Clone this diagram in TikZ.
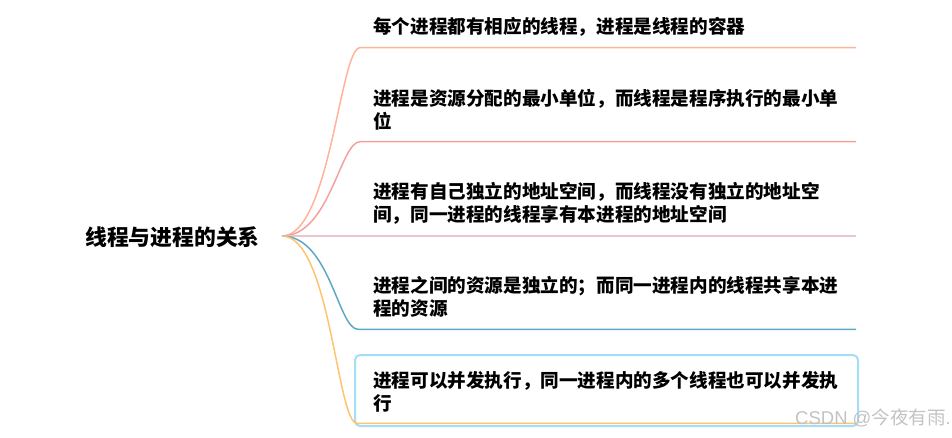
\documentclass[tikz,border=0pt]{standalone}
\usepackage{fontspec}
\newfontfamily\cjk{Noto Sans CJK SC}
\newfontfamily\marksans{Liberation Sans}
\usepackage{tikz}
\definecolor{brA}{HTML}{FFB399}
\definecolor{brB}{HTML}{F3A19F}
\definecolor{brC}{HTML}{EDC5CD}
\definecolor{brD}{HTML}{5DA9C5}
\definecolor{brE}{HTML}{FFC36E}
\definecolor{selblue}{HTML}{A5DDF9}
\definecolor{markgray}{HTML}{C2C2C2}
\begin{document}
\begin{tikzpicture}[x=1pt,y=-1pt,
  leaf/.style={anchor=west,align=left,inner sep=0pt,font=\cjk\bfseries\fontsize{18.6}{23.3}\selectfont},
  branch/.style={line width=1.5pt}]
\useasboundingbox (0,0) rectangle (952,437);
\coordinate(hub) at (282,236);
\node(root)[anchor=west,inner sep=0pt,font=\cjk\bfseries\fontsize{21.8}{26}\selectfont] at (85,237){线程与进程的关系};
\node(sel)[draw=selblue,line width=2pt,rounded corners=5pt,minimum width=503,minimum height=71] at (606.5,390.5){};
\coordinate(b1) at (360,47.7); \coordinate(e1) at (856,47.7);
\coordinate(b2) at (360,141.7); \coordinate(e2) at (856,141.7);
\coordinate(e3) at (856,236);
\coordinate(b4) at (358,329.3); \coordinate(e4) at (856,329.3);
\coordinate(b5) at (357,423.3); \coordinate(e5) at (856,423.3);
\draw[branch,brA] (hub) .. controls (330,236) and (340,47.7) .. (b1) -- (e1);
\draw[branch,brB] (hub) .. controls (330,236) and (340,141.7) .. (b2) -- (e2);
\draw[branch,brC] (hub) -- (e3);
\draw[branch,brD] (hub) .. controls (330,236) and (338,329.3) .. (b4) -- (e4);
\draw[branch,brE] (hub) .. controls (330,236) and (337,423.3) .. (b5) -- (e5);
\node(t1)[leaf] at (373,27){每个进程都有相应的线程，进程是线程的容器};
\node(t2)[leaf] at (373,110){进程是资源分配的最小单位，而线程是程序执行的最小单\\位};
\node(t3)[leaf] at (373,203.5){进程有自己独立的地址空间，而线程没有独立的地址空\\间，同一进程的线程享有本进程的地址空间};
\node(t4)[leaf] at (373,297){进程之间的资源是独立的；而同一进程内的线程共享本进\\程的资源};
\node(t5)[leaf] at (373,391.5){进程可以并发执行，同一进程内的多个线程也可以并发执\\行};
\node(mark)[anchor=west,inner sep=0pt,text=markgray,font=\fontsize{18.5}{20}\selectfont] at (795,418){{\marksans CSDN @}{\cjk 今夜有雨}{\marksans .}};
\end{tikzpicture}
\end{document}
